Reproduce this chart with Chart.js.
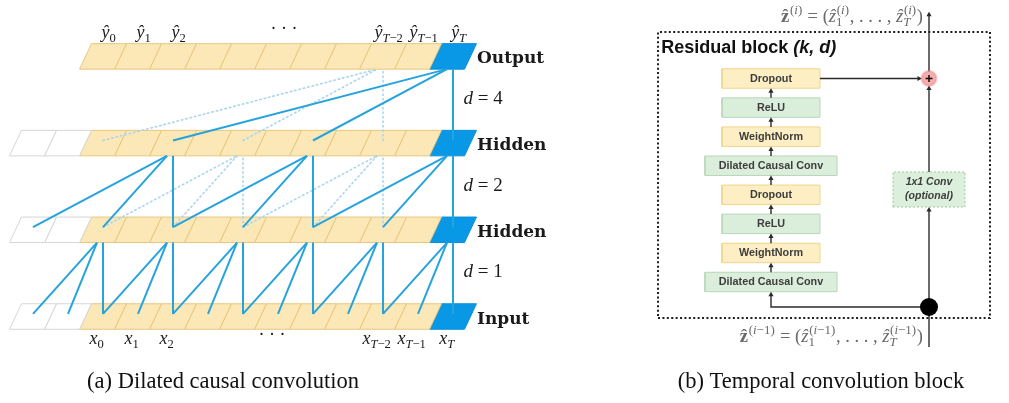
<!DOCTYPE html>
<html>
<head>
<meta charset="utf-8">
<script src="https://cdn.jsdelivr.net/npm/chart.js@4.4.1/dist/chart.umd.min.js"></script>
<style>
  html, body { margin: 0; padding: 0; background: #ffffff; }
  #wrap { width: 1009px; height: 403px; position: relative; }
  canvas { display: block; }
</style>
</head>
<body>
<div id="wrap"><canvas id="c" width="1009" height="403"></canvas></div>
<script>
const W = 1009, H = 403;

// ---------- (a) dilated causal convolution ----------
const layerNames = ['Input', 'Hidden', 'Hidden', 'Output'];   // bottom to top
const layerStart = [-2, -2, -2, 0];        // first time step of each layer (negative = zero padding)
const lastStep = 10;                       // the step that produces ŷ_T
const dilations = [1, 2, 4];               // dilation between layer i and layer i+1
const kernelSize = 3;
const solidNodes = [[0, 2, 4, 6, 8, 10], [2, 6, 10], [10]];   // receptive field of ŷ_T
const dottedNodes = [[], [4, 8], [8]];                          // part of the receptive field of ŷ_{T-2}
const outBase = ['ŷ', 'ŷ', 'ŷ', '· · ·', 'ŷ', 'ŷ', 'ŷ'];
const outSub = ['0', '1', '2', '', 'T−2', 'T−1', 'T'];
const outStep = [0, 1, 2, 5, 8, 9, 10];
const inBase = ['x', 'x', 'x', '· · ·', 'x', 'x', 'x'];
const inSub = ['0', '1', '2', '', 'T−2', 'T−1', 'T'];
const inStep = [0, 1, 2, 5, 8, 9, 10];

// ---------- (b) temporal convolution (residual) block ----------
const blockOps = ['Dilated Causal Conv', 'WeightNorm', 'ReLU', 'Dropout',
                  'Dilated Causal Conv', 'WeightNorm', 'ReLU', 'Dropout'];    // bottom to top
const blockKinds = ['conv', 'norm', 'act', 'drop', 'conv', 'norm', 'act', 'drop'];
const skipOp = ['1x1 Conv', '(optional)'];
const blockTitle = ['Residual block ', '(k, d)'];
const captions = ['(a) Dilated causal convolution', '(b) Temporal convolution block'];

// ---------- geometry & style ----------
const PX = { ax0: 103, adx: 35, ay0: 316.5, ady: 86.7,      // panel (a): step / layer units
             bx0: 771, bdx: 158, by0: 282, bdy: 29.07 };    // panel (b): column / stage units
const CELL = { halfW: 0.5, halfH: 0.147, skew: 0.171 };
const CELL_STYLE = {
  pad:  { fill: '#ffffff', edge: '#d6d6d6' },
  cell: { fill: '#fce8b7', edge: '#e8c67e' },
  last: { fill: '#0898e6', edge: '#0b8fd9' }
};
const LINE_SOLID = '#26a3dc', LINE_DOT = '#a9d5ee';
const BOX_STYLE = {
  conv: { fill: '#dbeedb', edge: '#b7d8b7', halfW: 0.418 },
  act:  { fill: '#dbeedb', edge: '#b7d8b7', halfW: 0.31 },
  norm: { fill: '#fdefc3', edge: '#f1d48c', halfW: 0.31 },
  drop: { fill: '#fdefc3', edge: '#f1d48c', halfW: 0.31 }
};
const BLK = { halfH: 0.335, skipX: 1, sumY: 7, dotY: -0.86, inY: -2.236, outY: 9.19,
              c1: { y0: 2.58, y1: 3.784, halfW: 0.228 },
              frame: { x0: -0.715, x1: 1.386, y0: -1.24, y1: 8.6 } };
const INK = '#2b2b2b';

const datasets = [];
function path(pts, opts, ax) {
  datasets.push(Object.assign({
    data: pts.map(([x, y]) => ({ x, y })), showLine: true, tension: 0,
    pointRadius: 0, fill: false, xAxisID: ax[0], yAxisID: ax[1]
  }, opts));
}

// cells of every layer
layerNames.forEach((name, L) => {
  const { halfW: w, halfH: h, skew: s } = CELL;
  for (let t = layerStart[L]; t <= lastStep; t++) {
    const st = CELL_STYLE[t < 0 ? 'pad' : (t === lastStep ? 'last' : 'cell')];
    path([[t - w + s, L + h], [t + w + s, L + h], [t + w - s, L - h], [t - w - s, L - h], [t - w + s, L + h]],
         { fill: 'shape', backgroundColor: st.fill, borderColor: st.edge, borderWidth: 1, order: 5 }, ['xa', 'ya']);
  }
});

// causal, dilated connections between layers
function connect(nodes, L, style) {
  const d = dilations[L];
  nodes.forEach(t => {
    for (let k = 0; k < kernelSize; k++) {
      const src = t - k * d;
      if (src < layerStart[L]) continue;
      const topX = k === 0 ? t : t - CELL.skew;
      path([[src, L + 0.03], [topX, L + 1 - CELL.halfH]], style, ['xa', 'ya']);
    }
  });
}
dilations.forEach((d, L) => {
  connect(dottedNodes[L], L, { borderColor: LINE_DOT, borderWidth: 1.6, borderDash: [1.5, 3], borderCapStyle: 'round', order: 3 });
  connect(solidNodes[L], L, { borderColor: LINE_SOLID, borderWidth: 2, order: 2 });
});

// residual block: stacked operations
blockOps.forEach((op, k) => {
  const st = BOX_STYLE[blockKinds[k]], h = BLK.halfH;
  path([[-st.halfW, k - h], [st.halfW, k - h], [st.halfW, k + h], [-st.halfW, k + h], [-st.halfW, k - h]],
       { fill: 'shape', backgroundColor: st.fill, borderColor: st.edge, borderWidth: 1, order: 5 }, ['xb', 'yb']);
});
// optional 1x1 convolution on the skip path
{
  const c = BLK.c1, x = BLK.skipX;
  path([[x - c.halfW, c.y0], [x + c.halfW, c.y0], [x + c.halfW, c.y1], [x - c.halfW, c.y1], [x - c.halfW, c.y0]],
       { fill: 'shape', backgroundColor: '#dcefdc', borderColor: '#9fc69f', borderWidth: 1, borderDash: [2, 2], order: 5 }, ['xb', 'yb']);
}
// dotted frame
{
  const f = BLK.frame;
  path([[f.x0, f.y0], [f.x1, f.y0], [f.x1, f.y1], [f.x0, f.y1], [f.x0, f.y0]],
       { borderColor: '#1e1e1e', borderWidth: 2, borderDash: [2, 2.4], order: 4 }, ['xb', 'yb']);
}

// arrows: a polyline whose last point carries a triangular head
const HEAD = 3;                            // px
const hy = HEAD / PX.bdy, hx = HEAD / PX.bdx;
function arrow(pts, rot) {
  const n = pts.length;
  path(pts, {
    borderColor: INK, borderWidth: 1.4, order: 1,
    pointRadius: pts.map((p, i) => i === n - 1 ? HEAD : 0),
    pointStyle: 'triangle', pointRotation: rot,
    pointBackgroundColor: INK, pointBorderColor: INK, pointBorderWidth: 0
  }, ['xb', 'yb']);
}
for (let k = 0; k < blockOps.length - 1; k++) arrow([[0, k + BLK.halfH], [0, k + 1 - BLK.halfH - hy]], 0);
const sumR = 7 / PX.bdy;
arrow([[BOX_STYLE.drop.halfW, BLK.sumY], [BLK.skipX - (7 + HEAD) / PX.bdx, BLK.sumY]], 90);
arrow([[BLK.skipX, BLK.sumY + sumR], [BLK.skipX, BLK.outY]], 0);
arrow([[BLK.skipX, BLK.c1.y1], [BLK.skipX, BLK.sumY - sumR - hy]], 0);
arrow([[BLK.skipX, BLK.inY], [BLK.skipX, BLK.c1.y0 - hy]], 0);
arrow([[BLK.skipX, BLK.dotY], [0, BLK.dotY], [0, -BLK.halfH - hy]], 0);

// branch point and addition node
path([[BLK.skipX, BLK.dotY]], { showLine: false, pointRadius: 9, pointBackgroundColor: '#000', pointBorderWidth: 0, order: 0 }, ['xb', 'yb']);
path([[BLK.skipX, BLK.sumY]], { showLine: false, pointRadius: 7.5, pointBackgroundColor: 'rgba(236,105,105,0.55)', pointBorderColor: 'rgba(236,120,120,0.35)', pointBorderWidth: 2, order: 0 }, ['xb', 'yb']);
path([[BLK.skipX, BLK.sumY]], { showLine: false, pointRadius: 3.5, pointStyle: 'cross', pointBorderColor: '#111', pointBorderWidth: 1.5, order: -1 }, ['xb', 'yb']);

// ---------- text ----------
const SERIF = '"Liberation Serif", "DejaVu Serif", serif';
const SANS = '"Liberation Sans", Arial, sans-serif';
function setFont(ctx, px, it, bold, fam) {
  ctx.font = (it ? 'italic ' : '') + (bold ? 'bold ' : '') + px + 'px ' + (fam || SERIF);
}
const isLetter = ch => /[A-Za-zŷẑ]/.test(ch);
function run(ctx, s, x, y, px, bold, upright, draw) {
  for (const ch of s) {
    setFont(ctx, px, !upright && isLetter(ch), bold);
    if (draw) ctx.fillText(ch, x, y);
    x += ctx.measureText(ch).width;
  }
  return x;
}
// tokens: {t, bold, upright, sub, sup}
function math(ctx, toks, x, y, px, draw) {
  const sp = px * 0.7;
  for (const k of toks) {
    x = run(ctx, k.t, x, y, px, k.bold, k.upright, draw);
    if (k.sub || k.sup) {
      const a = k.sup ? run(ctx, k.sup, x + px * 0.04, y - px * 0.42, sp, false, false, draw) : x;
      const b = k.sub ? run(ctx, k.sub, x, y + px * 0.22, sp, false, false, draw) : x;
      x = Math.max(a, b) + px * 0.04;
    }
  }
  return x;
}
const mathWidth = (ctx, toks, px) => math(ctx, toks, 0, 0, px, false);

function labelRow(ctx, bases, subs, xs, y, px) {
  let prevEnd = -1e9;
  bases.forEach((b, i) => {
    const toks = subs[i] ? [{ t: b, sub: subs[i] }] : [{ t: b, upright: true }];
    const w = mathWidth(ctx, toks, px);
    const x = Math.max(xs[i] - w / 2, prevEnd + 1);
    math(ctx, toks, x, y - (subs[i] ? 0 : px * 0.22), px, true);
    prevEnd = x + w;
  });
}

const textLayer = {
  id: 'textLayer',
  afterDatasetsDraw(chart) {
    const { ctx } = chart;
    const { xa, ya, xb, yb } = chart.scales;
    const X = v => xa.getPixelForValue(v), Y = v => ya.getPixelForValue(v);
    const XB = v => xb.getPixelForValue(v), YB = v => yb.getPixelForValue(v);
    ctx.save();
    ctx.fillStyle = '#1a1a1a';
    ctx.textBaseline = 'alphabetic';

    // time-step labels above the output and below the input
    labelRow(ctx, outBase, outSub, outStep.map(t => X(t + CELL.skew)), Y(3.213), 18);
    labelRow(ctx, inBase, inSub, inStep.map(t => X(t - CELL.skew)), Y(-0.317), 18);

    // layer names
    ctx.textBaseline = 'middle';
    ctx.textAlign = 'left';
    layerNames.forEach((n, L) => {
      setFont(ctx, 17, false, true, '"DejaVu Serif", serif');
      ctx.fillText(n, X(lastStep + 0.686), Y(L - 0.03));
    });
    // dilation labels
    ctx.textBaseline = 'alphabetic';
    dilations.forEach((d, L) => {
      math(ctx, [{ t: 'd' }, { t: ' = ' + d, upright: true }], X(lastStep + 0.3), Y(L + 0.52) + 6, 19, true);
    });

    // residual block title
    const tx = XB(BLK.frame.x0 + 0.02), ty = YB(7.88);
    setFont(ctx, 18, false, true, SANS);
    ctx.fillStyle = '#111';
    ctx.fillText(blockTitle[0], tx, ty);
    const tw = ctx.measureText(blockTitle[0]).width;
    setFont(ctx, 18, true, true, SANS);
    ctx.fillText(blockTitle[1], tx + tw, ty);

    // operation names
    ctx.textAlign = 'center';
    ctx.textBaseline = 'middle';
    ctx.fillStyle = '#3d3d3d';
    setFont(ctx, 10.8, false, true, SANS);
    blockOps.forEach((op, k) => ctx.fillText(op, XB(0), YB(k) + 0.5));
    setFont(ctx, 10.5, true, true, SANS);
    ctx.fillText(skipOp[0], XB(BLK.skipX), YB(3.44));
    ctx.fillText(skipOp[1], XB(BLK.skipX), YB(2.96));

    // block input / output sequences
    ctx.textAlign = 'left';
    ctx.textBaseline = 'alphabetic';
    ctx.fillStyle = '#6a6a6a';
    const zOut = [{ t: 'ẑ', bold: true, upright: true, sup: '(i)' }, { t: ' = (', upright: true },
                  { t: 'ẑ', sub: '1', sup: '(i)' }, { t: ', . . . , ', upright: true },
                  { t: 'ẑ', sub: 'T', sup: '(i)' }, { t: ')', upright: true }];
    const zIn = [{ t: 'ẑ', bold: true, upright: true, sup: '(i−1)' }, { t: ' = (', upright: true },
                 { t: 'ẑ', sub: '1', sup: '(i−1)' }, { t: ', . . . , ', upright: true },
                 { t: 'ẑ', sub: 'T', sup: '(i−1)' }, { t: ')', upright: true }];
    const right = XB(BLK.skipX) - 6;
    math(ctx, zOut, right - mathWidth(ctx, zOut, 18.5), YB(8.96), 18.5, true);
    math(ctx, zIn, right - mathWidth(ctx, zIn, 18.5), YB(-2.06), 18.5, true);

    // sub-figure captions
    ctx.fillStyle = '#111';
    ctx.textAlign = 'center';
    setFont(ctx, 22.5, false, false);
    ctx.fillText(captions[0], 223, 388);
    ctx.fillText(captions[1], 821, 388);
    ctx.restore();
  }
};

function lin(axis, min, max) {
  return { type: 'linear', axis, display: false, min, max, bounds: 'data', grace: 0 };
}

new Chart(document.getElementById('c'), {
  type: 'scatter',
  data: { datasets },
  options: {
    responsive: false, animation: false, devicePixelRatio: 1, events: [],
    layout: { padding: 0, autoPadding: false },
    plugins: { legend: { display: false }, tooltip: { enabled: false }, title: { display: false } },
    elements: { line: { borderJoinStyle: 'miter' } },
    scales: {
      xa: lin('x', -PX.ax0 / PX.adx, (W - PX.ax0) / PX.adx),
      ya: lin('y', (PX.ay0 - H) / PX.ady, PX.ay0 / PX.ady),
      xb: lin('x', -PX.bx0 / PX.bdx, (W - PX.bx0) / PX.bdx),
      yb: lin('y', (PX.by0 - H) / PX.bdy, PX.by0 / PX.bdy)
    }
  },
  plugins: [textLayer]
});
</script>
</body>
</html>
